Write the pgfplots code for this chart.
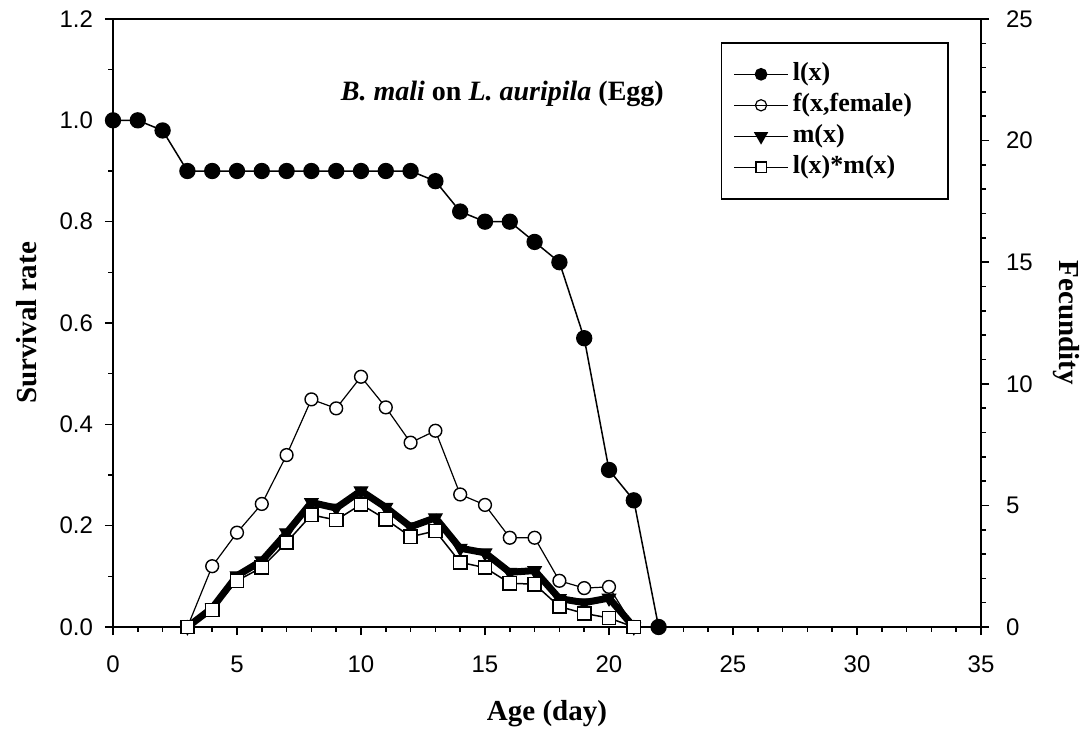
\documentclass[border=0pt]{standalone}
\usepackage{pgfplots}
\pgfplotsset{compat=1.18}
\usepackage{fontspec}
\setmainfont{Liberation Serif}
\newfontfamily\arial{Liberation Sans}

\pgfplotstableread{
x l
0 1.00
1 1.00
2 0.98
3 0.90
4 0.90
5 0.90
6 0.90
7 0.90
8 0.90
9 0.90
10 0.90
11 0.90
12 0.90
13 0.88
14 0.82
15 0.80
16 0.80
17 0.76
18 0.72
19 0.57
20 0.31
21 0.25
22 0.00
}\lxtable

\pgfplotstableread{
x f m lm
3 0 0 0
4 2.50 0.78 0.70
5 3.88 2.11 1.90
6 5.06 2.72 2.45
7 7.07 3.87 3.48
8 9.36 5.12 4.61
9 8.99 4.89 4.40
10 10.29 5.60 5.04
11 9.03 4.92 4.43
12 7.58 4.12 3.71
13 8.07 4.49 3.95
14 5.45 3.24 2.66
15 5.02 3.05 2.44
16 3.67 2.25 1.80
17 3.67 2.32 1.76
18 1.90 1.17 0.84
19 1.60 1.00 0.56
20 1.65 1.19 0.37
21 0 0 0
}\fectable

\pgfplotsset{
  common/.style={
    width=434pt, height=304pt, scale only axis,
    xmin=0, xmax=35,
    tick align=outside,
    major tick length=4pt, minor tick length=2.3pt,
    axis line style={line width=0.8pt},
    every tick/.style={line width=0.8pt, black},
    tick label style={font=\arial\fontsize{12}{14}\selectfont},
    /pgf/number format/assume math mode=true,
    label style={font=\bfseries\fontsize{14.5}{16}\selectfont},
  },
  legimg/.style={legend image code/.code={%
    \draw[mark repeat=2,mark phase=2] plot coordinates {(0pt,0pt) (13.5pt,0pt) (27pt,0pt)};}},
}

\begin{document}
\begin{tikzpicture}
\useasboundingbox (-56.5pt,-51pt) rectangle (486.5pt,313.5pt);
\begin{axis}[common,
  at={(0pt,0pt)}, anchor=south west,
  ymin=0, ymax=1.2,
  xtick={0,5,...,35}, minor x tick num=4,
  ytick={0,0.2,...,1.2}, minor y tick num=1,
  xtick pos=bottom, ytick pos=left,
  yticklabel style={xshift=-2.5pt, /pgf/number format/fixed, /pgf/number format/fixed zerofill, /pgf/number format/precision=1},
  xticklabel style={yshift=-7pt},
  xlabel={Age (day)}, ylabel={Survival rate},
  xlabel style={at={(axis description cs:0.5,-0.153)}, anchor=base},
  ylabel style={at={(axis description cs:-0.099,0.5)}, anchor=center},
]
\addplot[black, line width=0.75pt, mark=*, mark size=3.7pt, mark options={fill=black}] table[x=x,y=l] {\lxtable};
\node[font=\bfseries\fontsize{14}{16}\selectfont, anchor=base] at (axis cs:15.7,1.040) {\textit{B. mali} on \textit{L. auripila} (Egg)};
\end{axis}
\begin{axis}[common,
  at={(0pt,0pt)}, anchor=south west,
  ymin=0, ymax=25,
  axis x line=none,
  axis y line*=right,
  ytick={0,5,...,25}, minor y tick num=4,
  yticklabel style={xshift=5pt},
  ylabel={Fecundity},
  ylabel style={at={(axis description cs:1.098,0.5)}, anchor=center, rotate=180},
  legend style={at={(rel axis cs:0.700,0.962)}, anchor=north west,
    draw=black, line width=0.7pt,
    font=\bfseries\fontsize{13}{15}\selectfont,
    inner xsep=6pt, inner ysep=8pt,
    row sep=0pt,
    nodes={inner ysep=1.25pt, text height=9.5pt, text depth=3.5pt},
    legend cell align=left},
  legimg,
]
\addlegendimage{black, line width=0.75pt, mark=*, mark size=2.8pt, mark options={fill=black}}
\addlegendentry{l(x)}
\addlegendimage{black, line width=0.6pt, mark=o, mark size=2.8pt, mark options={fill=white}}
\addlegendentry{f(x,female)\rule{10pt}{0pt}}
\addlegendimage{black, line width=0.75pt, mark=triangle*, mark size=3.4pt, mark options={rotate=180, fill=black}}
\addlegendentry{m(x)}
\addlegendimage{black, line width=0.6pt, mark=square*, mark size=2.6pt, mark options={fill=white, line width=0.7pt}}
\addlegendentry{l(x)*m(x)}

\addplot[forget plot, black, line width=0.6pt, mark=*, mark size=3.2pt, mark options={fill=white, line width=0.7pt}] table[x=x,y=f] {\fectable};
\addplot[forget plot, black, line width=3.5pt, mark=triangle*, mark size=3.9pt, mark options={rotate=180, fill=black, line width=0.5pt}] table[x=x,y=m] {\fectable};
\addplot[forget plot, black, line width=0.75pt, mark=square*, mark size=3.3pt, mark options={fill=white, line width=0.8pt}] table[x=x,y=lm] {\fectable};
\end{axis}
\end{tikzpicture}
\end{document}
